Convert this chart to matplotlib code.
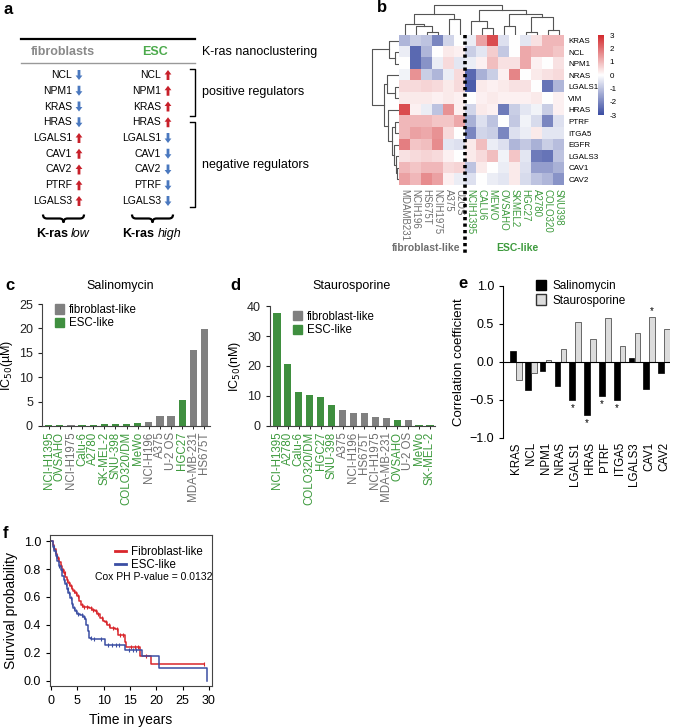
import numpy as np
import matplotlib
matplotlib.use("Agg")
import matplotlib.pyplot as plt
from matplotlib.colors import LinearSegmentedColormap
from matplotlib.patches import Patch, PathPatch
from matplotlib.path import Path
from matplotlib.lines import Line2D

plt.rcParams['font.family'] = ['Liberation Sans', 'DejaVu Sans']

W, H = 676, 727
GREEN = "#3f8f3f"
GREEN_TXT = "#3d9a3d"
GRAY = "#808080"
GRAY_TXT = "#6e6e6e"
RED = "#c8202a"
BLUE = "#4a78bf"

# ---- panel a ----
genes_a = ["NCL", "NPM1", "KRAS", "HRAS", "LGALS1", "CAV1", "CAV2", "PTRF", "LGALS3"]
fibro_dir = [-1, -1, -1, -1, 1, 1, 1, 1, 1]
esc_dir = [1, 1, 1, 1, -1, -1, -1, -1, -1]

# ---- panel b ----
hm_rows = ["KRAS", "NCL", "NPM1", "NRAS", "LGALS1", "VIM", "HRAS", "PTRF",
           "ITGA5", "EGFR", "LGALS3", "CAV1", "CAV2"]
hm_cols = ["MDAMB231", "NCIH196", "HS675T", "NCIH1975", "A375", "U2OS",
           "NCIH1395", "CALU6", "MEWO", "OVSAHO", "SKMEL2", "HGC27", "A2780",
           "COLO320", "SNU398"]
n_fibro_cols = 6
hm_vals = np.array([
    [-1.2, -0.8, -1.0, -2.0, -0.7, 0.0, -0.3, 1.3, 2.5, -0.5, 0.0, -0.4, 0.4, 1.0, 1.0],
    [-0.3, -2.5, -1.2, 0.0, 0.3, 0.2, -0.8, -0.4, 0.7, -0.9, 0.0, 1.2, 1.0, 1.0, 0.8],
    [0.0, -2.5, -1.8, -0.3, 0.5, -0.4, -0.3, 0.2, 0.9, 0.4, 0.4, 1.2, 0.2, 0.0, 0.4],
    [-0.2, 1.5, -0.8, -1.2, -0.3, 0.5, -2.5, -1.3, -0.8, 0.2, 1.7, 0.0, 0.3, 0.4, 0.5],
    [0.5, 0.5, 0.6, 0.5, 0.3, 0.5, -2.7, 0.3, 0.2, 0.3, 0.4, 0.4, 0.0, -2.3, -1.2],
    [0.3, 0.3, 0.3, 0.2, 0.3, 0.2, 0.0, 0.2, 0.3, 0.2, 0.2, 0.2, 0.3, 0.0, 0.2],
    [2.5, 0.2, -0.3, -1.0, 1.5, 0.2, -0.7, 0.3, 0.2, -2.2, -0.8, -0.4, -0.2, -0.8, 0.2],
    [1.0, 1.0, 1.0, 0.8, 0.8, 1.2, -1.3, -0.5, -1.0, 0.0, -0.9, -0.2, -0.6, -2.0, -0.5],
    [1.0, 1.3, 1.2, 1.5, 0.5, 0.0, -2.0, -0.7, -0.8, -2.0, -0.5, -0.3, 0.3, -0.4, -0.4],
    [1.8, 0.8, 0.9, 1.6, -0.4, -0.5, 0.3, 0.9, -0.3, -0.5, -1.2, -0.9, -1.3, -0.8, -1.1],
    [0.4, 0.5, 0.6, 0.5, 0.2, 0.0, 0.3, 0.5, 0.9, -0.2, 0.8, -0.4, -2.2, -2.3, -1.0],
    [1.0, 0.8, 1.0, 1.0, 0.5, 0.6, -1.0, 0.3, 0.0, -0.3, 0.3, -0.5, -1.6, -1.6, -1.3],
    [1.3, 1.0, 1.6, 1.3, 0.2, -0.3, -0.5, 0.0, -0.3, -0.4, 0.3, -0.6, -1.0, -1.2, -1.8],
])
cbar_ticks = [-3, -2, -1, 0, 1, 2, 3]
# dendrograms: (left, right, height), leaves are indices
col_tree = (((0, (1, (2, 3, 3), 8), 10), (4, 5, 15), 20),
            ((6, (7, 8, 7), 13), ((9, 10, 8), ((11, 12, 3), (13, 14, 5), 17), 20), 23),
            28)
row_tree = ((0, (1, 2, 4), 10),
            ((3, (4, 5, 4), 12),
             (6, ((7, 8, 4), (9, (10, (11, 12, 2), 3), 5), 7), 11), 15),
            27)

# ---- panel c ----
sal_lines = ["NCI-H1395", "OVSAHO", "NCI-H1975", "Calu-6", "A2780", "SK-MEL-2",
             "SNU-398", "COLO320/DM", "MeWo", "NCI-H196", "A375", "U-2 OS",
             "HGC27", "MDA-MB-231", "HS675T"]
sal_ic50 = [0.2, 0.2, 0.2, 0.2, 0.3, 0.4, 0.4, 0.5, 0.7, 0.8, 2.0, 2.1, 5.4, 15.6, 19.9]
sal_esc = [1, 1, 0, 1, 1, 1, 1, 1, 1, 0, 0, 0, 1, 0, 0]

# ---- panel d ----
sta_lines = ["NCI-H1395", "A2780", "Calu-6", "COLO320/DM", "HGC27", "SNU-398",
             "A375", "NCI-H196", "HS675T", "NCI-H1975", "MDA-MB-231", "OVSAHO",
             "U-2 OS", "MeWo", "SK-MEL-2"]
sta_ic50 = [37.7, 20.7, 11.3, 10.2, 9.6, 7.0, 5.4, 4.3, 4.2, 2.9, 2.6, 2.1, 1.9, 0.5, 0.2]
sta_esc = [1, 1, 1, 1, 1, 1, 0, 0, 0, 0, 0, 1, 0, 1, 1]

# ---- panel e ----
corr_genes = ["KRAS", "NCL", "NPM1", "NRAS", "LGALS1", "HRAS", "PTRF", "ITGA5",
              "LGALS3", "CAV1", "CAV2"]
corr_sal = [0.15, -0.37, -0.12, -0.32, -0.50, -0.70, -0.45, -0.50, 0.05, -0.35, -0.14]
corr_sta = [-0.24, -0.15, 0.03, 0.17, 0.52, 0.30, 0.58, 0.21, 0.38, 0.59, 0.44]
sig_sal = [0, 0, 0, 0, 1, 1, 1, 1, 0, 0, 0]
sig_sta = [0, 0, 0, 0, 0, 0, 0, 0, 0, 1, 0]

# ---- panel f ----
red_t = [0, 0.3, 0.6, 0.9, 1.2, 1.5, 1.8, 2.1, 2.4, 2.7, 3.0, 3.3, 3.6, 3.9, 4.2, 4.6,
         5.0, 5.3, 5.6, 6.0, 6.6, 7.2, 7.8, 8.3, 8.8, 9.3, 9.8, 10.2, 10.7, 11.2, 12.1,
         12.8, 14.0, 14.3, 17.0, 19.0, 29.0]
red_s = [1.0, 0.97, 0.94, 0.91, 0.88, 0.85, 0.82, 0.79, 0.77, 0.74, 0.72, 0.70, 0.68,
         0.66, 0.64, 0.63, 0.61, 0.57, 0.54, 0.53, 0.53, 0.52, 0.51, 0.50, 0.48, 0.45,
         0.43, 0.42, 0.40, 0.38, 0.37, 0.33, 0.28, 0.24, 0.18, 0.12, 0.12]
blue_t = [0, 0.3, 0.6, 0.9, 1.2, 1.5, 1.8, 2.1, 2.4, 2.7, 3.0, 3.3, 3.6, 3.9, 4.2, 4.6,
          5.0, 5.5, 6.0, 6.4, 6.7, 7.0, 7.3, 7.6, 9.0, 10.2, 14.0, 17.2, 20.6, 29.7]
blue_s = [1.0, 0.96, 0.93, 0.89, 0.86, 0.82, 0.79, 0.75, 0.72, 0.69, 0.66, 0.63, 0.59,
          0.55, 0.52, 0.50, 0.48, 0.47, 0.46, 0.44, 0.40, 0.36, 0.31, 0.30, 0.30, 0.26,
          0.22, 0.18, 0.09, 0.0]
red_cens = [1.0, 1.4, 1.9, 2.3, 2.6, 3.1, 3.4, 3.8, 4.4, 4.8, 5.1, 5.8, 6.3, 6.9, 7.5,
            8.0, 8.6, 9.0, 9.6, 10.5, 11.0, 11.7, 12.5, 13.2, 13.7, 15.2, 16.0, 16.5,
            18.0, 29.0]
blue_cens = [0.5, 0.8, 1.1, 1.6, 2.0, 2.5, 2.9, 3.2, 3.5, 3.8, 4.0, 4.4, 4.8, 5.2,
             5.8, 6.2, 7.5, 8.2, 9.5, 10.8, 11.5, 12.3, 13.0, 14.8, 15.5, 16.2]


def px(l, t, r, b):
    return [l / W, 1 - b / H, (r - l) / W, (b - t) / H]


def draw_tree(ax, node, orient, color="#555555"):
    if isinstance(node, int):
        return node + 0.5, 0
    left, right, h = node
    pl, hl = draw_tree(ax, left, orient, color)
    pr, hr = draw_tree(ax, right, orient, color)
    xs, ys = [pl, pl, pr, pr], [hl, h, h, hr]
    if orient == "top":
        ax.plot(xs, ys, color=color, lw=0.8)
    else:
        ax.plot(ys, xs, color=color, lw=0.8)
    return (pl + pr) / 2, h


def brace(ax, x0, x1, y0, depth):
    r = depth / 2
    xm = (x0 + x1) / 2
    verts = [(x0, y0), (x0, y0 + r), (x0 + r, y0 + r), (xm - r, y0 + r),
             (xm, y0 + r), (xm, y0 + depth), (xm, y0 + r), (xm + r, y0 + r),
             (x1 - r, y0 + r), (x1, y0 + r), (x1, y0)]
    codes = [Path.MOVETO, Path.CURVE3, Path.CURVE3, Path.LINETO, Path.CURVE3,
             Path.CURVE3, Path.CURVE3, Path.CURVE3, Path.LINETO, Path.CURVE3,
             Path.CURVE3]
    ax.add_patch(PathPatch(Path(verts, codes), fill=False, lw=1.6, color="black"))


fig = plt.figure(figsize=(W / 100, H / 100), dpi=100)

# overlay in pixel units for panel a, titles and panel letters
ov = fig.add_axes([0, 0, 1, 1])
ov.set_xlim(0, W)
ov.set_ylim(H, 0)
ov.axis("off")
ov.patch.set_alpha(0)

for letter, (x, y) in zip("abcdef", [(4, 9), (377, 8), (5, 286), (230, 286), (458, 284), (3, 534)]):
    ov.text(x, y, letter, fontsize=12, fontweight="bold", va="center", ha="left")

# ---- a ----
ov.plot([21, 195], [38.5, 38.5], color="black", lw=1.6)
ov.plot([21, 195], [62.5, 62.5], color="#999999", lw=1.0)
ov.text(63, 52, "fibroblasts", fontsize=9, fontweight="bold", color="#8a8a8a", ha="center", va="center")
ov.text(155, 52, "ESC", fontsize=9, fontweight="bold", color="#4caa4c", ha="center", va="center")
ov.text(202, 52, "K-ras nanoclustering", fontsize=9, ha="left", va="center")
row_y = np.linspace(75, 201, len(genes_a))
for g, y, df, de in zip(genes_a, row_y, fibro_dir, esc_dir):
    ov.text(72, y, g, fontsize=7.5, ha="right", va="center")
    ov.text(161, y, g, fontsize=7.5, ha="right", va="center")
    for xa, d in ((79, df), (168, de)):
        col = RED if d > 0 else BLUE
        ov.arrow(xa, y + 5 * d, 0, -10 * d, width=2.8, head_width=6.8, head_length=4.5,
                 length_includes_head=True, color=col, lw=0)
ov.plot([190, 194.5, 194.5, 190], [69, 69, 116, 116], color="black", lw=1.0)
ov.plot([190, 194.5, 194.5, 190], [121.5, 121.5, 207, 207], color="black", lw=1.0)
ov.text(202, 92, "positive regulators", fontsize=9, ha="left", va="center")
ov.text(202, 165, "negative regulators", fontsize=9, ha="left", va="center")
brace(ov, 43, 84, 214.5, 8)
brace(ov, 132, 173, 214.5, 8)
ov.text(68, 234, "K-ras", fontsize=9, fontweight="bold", ha="right", va="center")
ov.text(71, 234, "low", fontsize=9, style="italic", ha="left", va="center")
ov.text(154.5, 234, "K-ras", fontsize=9, fontweight="bold", ha="right", va="center")
ov.text(157.5, 234, "high", fontsize=9, style="italic", ha="left", va="center")

# ---- b ----
cmap = LinearSegmentedColormap.from_list("rb", ["#3a4ca2", "#ffffff", "#d3292d"])
axh = fig.add_axes(px(399, 35, 564, 185))
im = axh.imshow(hm_vals, cmap=cmap, vmin=-3, vmax=3, aspect="auto",
                extent=(0, len(hm_cols), len(hm_rows), 0), interpolation="nearest")
axh.set_xlim(0, len(hm_cols))
axh.set_ylim(len(hm_rows), 0)
for s in axh.spines.values():
    s.set_visible(False)
axh.set_xticks(np.arange(len(hm_cols)) + 0.5)
axh.set_xticklabels(hm_cols, rotation=270, fontsize=7)
for i, lab in enumerate(axh.get_xticklabels()):
    lab.set_color(GRAY_TXT if i < n_fibro_cols else GREEN_TXT)
axh.yaxis.tick_right()
axh.set_yticks(np.arange(len(hm_rows)) + 0.5)
axh.set_yticklabels(hm_rows, fontsize=5.8)
axh.tick_params(length=0, pad=3)
axh.plot([n_fibro_cols, n_fibro_cols], [1.0, -0.45], transform=axh.get_xaxis_transform(),
         clip_on=False, color="black", lw=2.6, ls=(0, (0.9, 0.9)))
axh.text(2.5, -0.42, "fibroblast-like", transform=axh.get_xaxis_transform(), fontsize=7.5,
         fontweight="bold", color=GRAY_TXT, ha="center", va="center")
axh.text(10.8, -0.42, "ESC-like", transform=axh.get_xaxis_transform(), fontsize=7.5,
         fontweight="bold", color=GREEN_TXT, ha="center", va="center")

axdt = fig.add_axes(px(399, 4, 564, 35))
axdt.set_xlim(0, len(hm_cols))
axdt.set_ylim(0, 29)
draw_tree(axdt, col_tree, "top")
axdt.axis("off")

axdl = fig.add_axes(px(371, 35, 399, 185))
axdl.set_ylim(len(hm_rows), 0)
axdl.set_xlim(28, 0)
draw_tree(axdl, row_tree, "left")
axdl.axis("off")

cax = fig.add_axes(px(598, 35, 604, 115))
cb = fig.colorbar(im, cax=cax, ticks=cbar_ticks)
cb.ax.set_yticklabels([str(t) for t in cbar_ticks])
cb.outline.set_visible(False)
cax.tick_params(length=0, labelsize=5.8, pad=4)


def bar_panel(ax, names, vals, esc, ymax, ystep, ylabel, xlim):
    x = np.arange(len(names))
    cols = [GREEN if e else GRAY for e in esc]
    ax.bar(x, vals, width=0.65, color=cols)
    ax.set_xlim(*xlim)
    ax.set_ylim(0, ymax)
    ax.set_yticks(np.arange(0, ymax + 0.1, ystep))
    ax.set_xticks(x)
    ax.set_xticklabels(names, rotation=90, fontsize=8.3)
    for lab, e in zip(ax.get_xticklabels(), esc):
        lab.set_color(GREEN_TXT if e else GRAY_TXT)
    ax.spines[["top", "right"]].set_visible(False)
    for s in ("left", "bottom"):
        ax.spines[s].set_linewidth(0.8)
        ax.spines[s].set_color("#444444")
    ax.tick_params(axis="y", labelsize=9, length=3, width=0.8, colors="#222222")
    ax.tick_params(axis="x", length=2, width=0.6, pad=2)
    ax.set_ylabel(ylabel, fontsize=9, labelpad=3)
    ax.legend(handles=[Patch(color=GRAY, label="fibroblast-like"),
                       Patch(color=GREEN, label="ESC-like")],
              loc="upper left", bbox_to_anchor=(0.05, 1.04), frameon=False, fontsize=8.3,
              handlelength=0.8, handleheight=0.9, handletextpad=0.4, labelspacing=0.15,
              borderaxespad=0)


# ---- c ----
axc = fig.add_axes(px(42, 304, 210, 426))
bar_panel(axc, sal_lines, sal_ic50, sal_esc, 25, 5, r"IC$_{50}$(µM)", (-0.6, 14.5))
ov.text(120, 286, "Salinomycin", fontsize=9, ha="center", va="center")

# ---- d ----
axd = fig.add_axes(px(270, 306, 435, 426))
bar_panel(axd, sta_lines, sta_ic50, sta_esc, 40, 10, r"IC$_{50}$(nM)", (-0.64, 14.46))
axd.legend_.set_bbox_to_anchor((0.11, 1.0), transform=axd.transAxes)
ov.text(352, 286, "Staurosporine", fontsize=9, ha="center", va="center")

# ---- e ----
axe = fig.add_axes(px(503, 286, 670, 438))
xe = np.arange(len(corr_genes))
axe.bar(xe - 0.2, corr_sal, width=0.38, color="black", edgecolor="black", lw=0.5)
axe.bar(xe + 0.2, corr_sta, width=0.38, color="#dcdcdc", edgecolor="#333333", lw=0.5)
axe.axhline(0, color="black", lw=0.8)
for i in range(len(corr_genes)):
    if sig_sal[i]:
        axe.text(xe[i] - 0.2, corr_sal[i] - 0.04, "*", fontsize=7, ha="center", va="top")
    if sig_sta[i]:
        axe.text(xe[i] + 0.2, corr_sta[i] + 0.02, "*", fontsize=7, ha="center", va="bottom")
axe.set_xlim(-0.88, 10.4)
axe.set_ylim(-1, 1)
axe.set_yticks([-1.0, -0.5, 0.0, 0.5, 1.0])
axe.set_yticklabels(["\u22121.0", "\u22120.5", "0.0", "0.5", "1.0"])
axe.set_xticks(xe)
axe.set_xticklabels(corr_genes, rotation=90, fontsize=8.3)
axe.spines[["top", "right", "bottom"]].set_visible(False)
axe.spines["left"].set_linewidth(0.8)
axe.tick_params(axis="y", labelsize=9, length=3, width=0.8)
axe.tick_params(axis="x", length=0, pad=3)
axe.set_ylabel("Correlation coefficient", fontsize=9.5, labelpad=3)
axe.legend(handles=[Patch(facecolor="black", edgecolor="black", label="Salinomycin"),
                    Patch(facecolor="#dcdcdc", edgecolor="#333333", label="Staurosporine")],
           loc="upper left", bbox_to_anchor=(531 / W, 1 - 275 / H), bbox_transform=fig.transFigure,
           frameon=False, fontsize=8.5, handlelength=0.9, handleheight=1.0,
           handletextpad=0.5, labelspacing=0.2, borderaxespad=0)

# ---- f ----
axf = fig.add_axes(px(50, 535, 212, 686))
for t, s, cens, col, lab in ((red_t, red_s, red_cens, "#d9262b", "Fibroblast-like"),
                             (blue_t, blue_s, blue_cens, "#3b4ea3", "ESC-like")):
    axf.step(t, s, where="post", color=col, lw=1.1)
    idx = np.searchsorted(t, cens, side="right") - 1
    axf.plot(cens, np.asarray(s)[idx], ls="none", marker="|", ms=3.5, mew=0.8, color=col)
axf.set_xlim(-0.2, 30.6)
axf.set_ylim(-0.036, 1.043)
axf.set_xticks(np.arange(0, 31, 5))
axf.set_yticks([0.0, 0.2, 0.4, 0.6, 0.8, 1.0])
axf.set_yticklabels(["0.0", "0.2", "0.4", "0.6", "0.8", "1.0"])
axf.tick_params(labelsize=9, length=3, width=0.8)
for s in axf.spines.values():
    s.set_linewidth(0.8)
    s.set_color("#444444")
axf.set_xlabel("Time in years", fontsize=10, labelpad=4)
axf.set_ylabel("Survival probability", fontsize=10, labelpad=4)
axf.legend(handles=[Line2D([], [], color="#d9262b", lw=2, label="Fibroblast-like"),
                    Line2D([], [], color="#3b4ea3", lw=2, label="ESC-like")],
           loc="upper left", bbox_to_anchor=(0.37, 0.96), frameon=False, fontsize=8.3,
           handlelength=1.0, handletextpad=0.4, labelspacing=0.15, borderaxespad=0)
axf.text(0.64, 0.72, "Cox PH P-value = 0.0132", transform=axf.transAxes, fontsize=7.5,
         ha="center", va="center")

fig.savefig("out.png", dpi=100)
